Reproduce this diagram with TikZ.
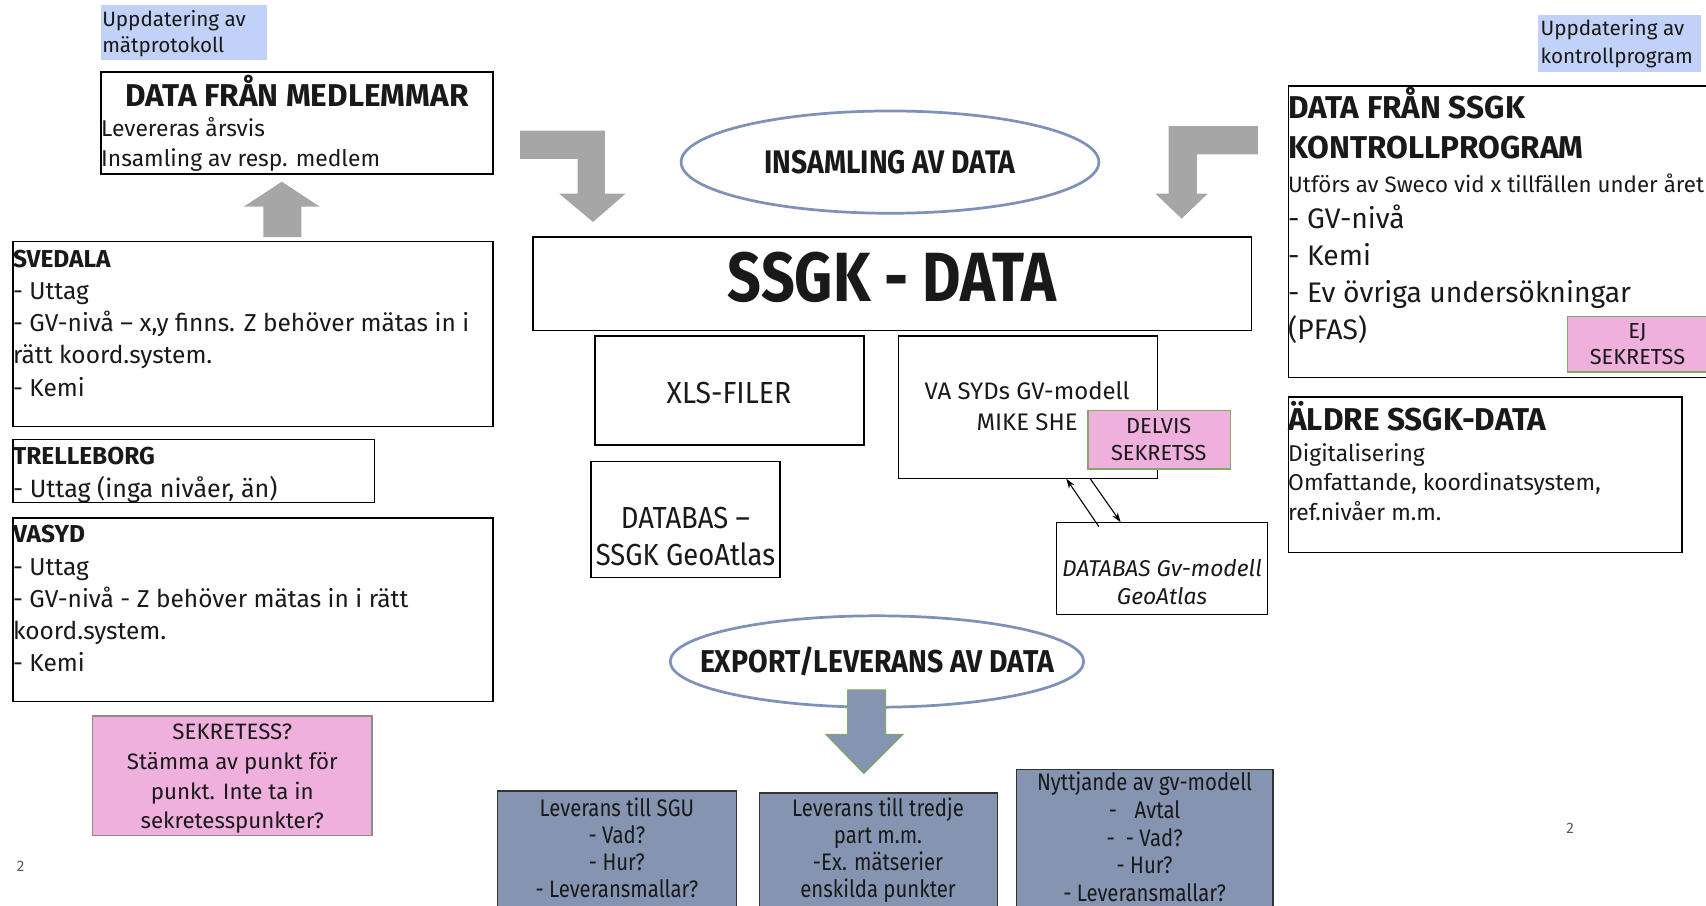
\documentclass[tikz,border=0pt]{standalone}
\usepackage{fontspec}
\usepackage{graphicx}
\setmainfont{Fira Sans}
\usetikzlibrary{arrows.meta,calc,shapes.geometric}
\definecolor{arrgray}{RGB}{166,166,166}
\definecolor{labblue}{RGB}{193,209,247}
\definecolor{pinkfill}{RGB}{240,176,222}
\definecolor{greenline}{RGB}{130,170,100}
\definecolor{ellline}{RGB}{125,145,185}
\definecolor{botfill}{RGB}{133,148,176}
\definecolor{pagegray}{RGB}{90,90,90}
\newcommand\myfs[2]{\fontsize{#1}{#2}\selectfont}
\newcommand\hsq[2]{\scalebox{#1}[1]{#2}}
\begin{document}
\begin{tikzpicture}[x=1pt,y=-1pt,
  box/.style={draw=black, line width=1.3pt, rectangle, inner sep=0pt, outer sep=0pt, anchor=north west},
  bluelab/.style={fill=labblue, rectangle, inner sep=0pt, outer sep=0pt, anchor=north west},
  pinkbox/.style={fill=pinkfill, draw=greenline, line width=1.2pt, rectangle, inner sep=0pt, outer sep=0pt, anchor=north west},
  botbox/.style={fill=botfill, draw=black!80, line width=1.3pt, rectangle, inner sep=0pt, outer sep=0pt, anchor=north west},
  ell/.style={ellipse, draw=ellline, line width=2.5pt, fill=white, inner sep=0pt},
  txt/.style={inner sep=0pt, outer sep=0pt, text=black!90},
  conn/.style={draw=black, line width=1pt, -{Stealth[length=9pt,width=6pt]}}
]
\useasboundingbox (0,0) rectangle (1568,832);
\clip (0,0) rectangle (1568,832);

% ---------- left column ----------
\node[bluelab, minimum width=152pt, minimum height=50pt] (lab1) at (93,5) {};
\node[txt, anchor=base west] (lab1t) at (94,24) {\parbox[t]{200pt}{\myfs{19}{24}Uppdatering av\\mätprotokoll}};

\node[box, minimum width=360pt, minimum height=94pt] (med) at (93,66) {};
\node[txt, anchor=base] (medt) at (273,98) {\myfs{29}{29}\bfseries DATA FRÅN MEDLEMMAR};
\node[txt, anchor=base west] (medl) at (93,125) {\parbox[t]{350pt}{\myfs{21}{28}Levereras årsvis\\Insamling av resp. medlem}};

\fill[arrgray] (242,218) -- (242,190) -- (224,190) -- (259,167) -- (294,190) -- (277,190) -- (277,218) -- cycle;

\node[box, minimum width=441pt, minimum height=170pt] (sved) at (12,222) {};
\node[txt, anchor=base west] (svedt) at (12,246) {\parbox[t]{440pt}{\myfs{22.5}{29.5}{\bfseries\fontsize{22.5}{29.5}\selectfont SVEDALA}\\- Uttag\\- GV-nivå – x,y finns. Z behöver mätas in i\\rätt koord.system.\\- Kemi}};

\node[box, minimum width=332pt, minimum height=58pt] (trel) at (12,404) {};
\node[txt, anchor=base west] (trelt) at (12,427) {\parbox[t]{330pt}{\myfs{23}{30}{\bfseries\fontsize{22.5}{30}\selectfont TRELLEBORG}\\- Uttag (inga nivåer, än)}};

\node[box, minimum width=441pt, minimum height=169pt] (vasydbox) at (12,476) {};
\node[txt, anchor=base west] (vasydt) at (12,499) {\parbox[t]{440pt}{\myfs{22.5}{29.5}{\bfseries\fontsize{22.5}{29.5}\selectfont VASYD}\\- Uttag\\- GV-nivå - Z behöver mätas in i rätt\\koord.system.\\- Kemi}};

\node[pinkbox, draw=black!45, minimum width=257pt, minimum height=110pt] (sek) at (85,658) {};
\node[txt, anchor=base] (sekt) at (213.5,680) {\parbox[t]{257pt}{\centering\myfs{20.5}{27.3}SEKRETESS?\\Stämma av punkt för\\punkt. Inte ta in\\sekretesspunkter?}};

\node[txt, text=pagegray, anchor=base] (pg1) at (19,801) {\myfs{14}{14}2};

% ---------- middle ----------
\fill[arrgray] (478,120) -- (556,120) -- (556,178) -- (575,178) -- (545,204) -- (514,178) -- (531,178) -- (531,146) -- (478,146) -- cycle;

\node[ell, minimum width=384pt, minimum height=94pt] (insam) at (818,149) {};
\node[txt] (insamt) at (insam.center) {\myfs{30}{30}\bfseries\hsq{0.865}{INSAMLING AV DATA}};

\fill[arrgray] (1156,116) -- (1156,142) -- (1100,142) -- (1100,178) -- (1110,178) -- (1086,201) -- (1062,178) -- (1074,178) -- (1074,116) -- cycle;

\node[box, minimum width=660pt, minimum height=86pt] (ssgk) at (490,218) {};
\node[txt, anchor=base] (ssgkt) at (820,277) {\myfs{64}{64}\bfseries\hsq{0.85}{SSGK - DATA}};

\node[box, minimum width=247pt, minimum height=100pt] (xls) at (547,309) {};
\node[txt, anchor=base] (xlst) at (670,371) {\myfs{28}{28}\hsq{0.93}{XLS-FILER}};

\node[box, minimum width=238pt, minimum height=131pt] (vasyd) at (826,309) {};
\node[txt, anchor=base] (vasydmt) at (944,367) {\parbox[t]{238pt}{\centering\myfs{22}{29}VA SYDs GV-modell\\MIKE SHE}};

\node[pinkbox, minimum width=131pt, minimum height=54pt] (delvis) at (1000,377) {};
\node[txt, anchor=base] (delvist) at (1065,398) {\parbox[t]{131pt}{\centering\myfs{20}{25}DELVIS\\SEKRETSS}};

\node[box, minimum width=174pt, minimum height=107pt] (dbssgk) at (543,424) {};
\node[txt, anchor=base] (dbssgkt) at (630,486) {\hsq{0.9}{\parbox[t]{190pt}{\centering\myfs{28}{34}DATABAS –\\SSGK GeoAtlas}}};

\node[box, minimum width=194pt, minimum height=85pt] (dbgv) at (971,480) {};
\node[txt, anchor=base] (dbgvt) at (1068,530) {\parbox[t]{194pt}{\centering\itshape\myfs{21}{26}DATABAS Gv-modell\\GeoAtlas}};

\draw[conn] ([shift={(39,4)}]dbgv.north west) -- ([xshift=154pt]vasyd.south west);
\draw[conn] ([xshift=176pt]vasyd.south west) -- ([xshift=59pt]dbgv.north west);

\node[ell, minimum width=380pt, minimum height=84pt] (export) at (806,608) {};
\node[txt] (exportt) at (export.center) {\myfs{29}{29}\bfseries\hsq{0.9}{EXPORT/LEVERANS AV DATA}};

\filldraw[fill=botfill, draw=greenline, line width=1pt] (779,634) -- (814,634) -- (814,675) -- (830,675) -- (794,711) -- (759,675) -- (779,675) -- cycle;

\node[botbox, minimum width=220pt, minimum height=115pt] (b1) at (457,727) {};
\node[txt, anchor=base] (b1t) at (567,750) {\hsq{0.85}{\parbox[t]{258pt}{\centering\myfs{22}{25}Leverans till SGU\\- Vad?\\- Hur?\\- Leveransmallar?}}};

\node[botbox, minimum width=219pt, minimum height=115pt] (b2) at (698,729) {};
\node[txt, anchor=base] (b2t) at (807,750) {\hsq{0.85}{\parbox[t]{258pt}{\centering\myfs{22}{25}Leverans till tredje\\part m.m.\\-Ex. mätserier\\enskilda punkter}}};

\node[botbox, minimum width=236pt, minimum height=135pt] (b3) at (934,707) {};
\node[txt, anchor=base] (b3t) at (1052,727) {\hsq{0.85}{\parbox[t]{278pt}{\centering\myfs{22}{25.3}Nyttjande av gv-modell\\-\hspace{19pt}Avtal\\-\hspace{12pt}- Vad?\\- Hur?\\- Leveransmallar?}}};

% ---------- right column ----------
\node[bluelab, minimum width=149pt, minimum height=52pt] (lab2) at (1414,14) {};
\node[txt, anchor=base west] (lab2t) at (1416,33) {\parbox[t]{150pt}{\myfs{19}{25}Uppdatering av\\kontrollprogram}};

\node[box, minimum width=400pt, minimum height=268pt] (kontr) at (1184,79) {};
\node[txt, anchor=base west] (kontrt) at (1184,109) {\parbox[t]{380pt}{\myfs{29}{37}\bfseries DATA FRÅN SSGK\\KONTROLLPROGRAM}};
\node[txt, anchor=base west] (kontru) at (1184,177) {\myfs{20.5}{20.5}Utförs av Sweco vid x tillfällen under året};
\node[txt, anchor=base west] (kontrl) at (1184,210) {\parbox[t]{380pt}{\myfs{26}{34}- GV-nivå\\- Kemi\\- Ev övriga undersökningar\\(PFAS)}};

\node[pinkbox, minimum width=140pt, minimum height=51pt] (ejsek) at (1441,291) {};
\node[txt, anchor=base] (ejsekt) at (1505,311) {\parbox[t]{128pt}{\centering\myfs{20}{24}EJ\\SEKRETSS}};

\node[box, minimum width=362pt, minimum height=143pt] (aldre) at (1184,365) {};
\node[txt, anchor=base west] (aldret) at (1184,396) {\myfs{29}{29}\bfseries ÄLDRE SSGK-DATA};
\node[txt, anchor=base west] (aldrel) at (1184,424) {\parbox[t]{360pt}{\myfs{21}{27}Digitalisering\\Omfattande, koordinatsystem,\\ref.nivåer m.m.}};

\node[txt, text=pagegray, anchor=base] (pg2) at (1443,766) {\myfs{14}{14}2};
\end{tikzpicture}
\end{document}
